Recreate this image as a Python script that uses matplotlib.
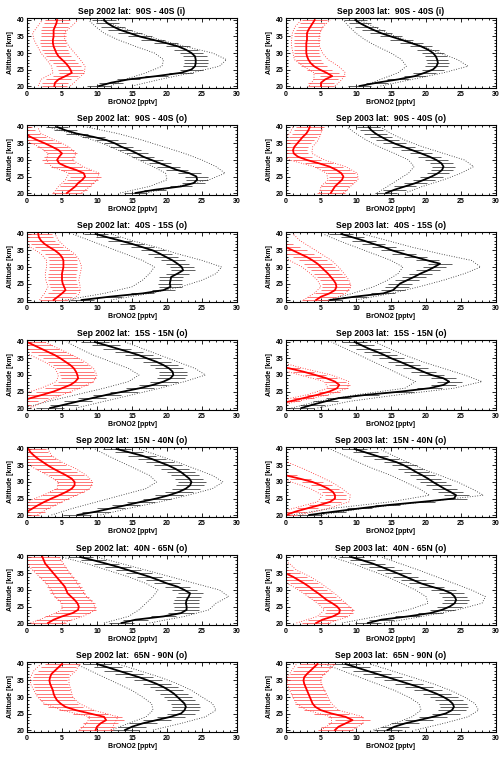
import matplotlib
matplotlib.use("Agg")
import matplotlib.pyplot as plt
from matplotlib.ticker import MultipleLocator
import numpy as np

plt.rcParams['font.family'] = ['Liberation Sans', 'DejaVu Sans']
plt.rcParams['font.weight'] = 'bold'

# altitude grid (km) for the profiles and the coarser grid of the dotted envelopes
alt = np.arange(20, 41)
alt_env = np.arange(20, 41, 2)

years = ['2002', '2003']
regions = ['90S - 40S (i)', '90S - 40S (o)', '40S - 15S (o)', '15S - 15N (o)',
           '15N - 40N (o)', '40N - 65N (o)', '65N - 90N (o)']

# panel order: row by row, left = 2002, right = 2003
blk_mean = [
    [10.3, 12, 14.5, 18.5, 22, 23.5, 24, 24.1, 24.1, 24, 23.5, 22.7, 21.6, 19.9, 18, 16.1, 14.7, 13.3, 12.3, 11.5, 11.0],
    [10.5, 13, 16, 18.4, 19.8, 21, 21.5, 21.7, 21.6, 21.4, 21, 20.3, 19.3, 17.9, 16.5, 15, 13.6, 12.5, 11.5, 10.6, 9.9],
    [15.5, 18.3, 22, 23.8, 24.3, 24.2, 23.2, 21.4, 20.2, 19, 17.8, 16.6, 15.7, 14.7, 13.5, 12.6, 11.4, 9.5, 7.1, 5.5, 4.3],
    [14.3, 15.5, 17, 18.5, 19.7, 20.8, 21.7, 22.3, 22.5, 22.2, 21.5, 20.5, 19.3, 18, 16.8, 15.5, 14.5, 13.6, 12.8, 12.2, 11.8],
    [7.8, 11.8, 16.5, 19.5, 20.5, 20.4, 20.5, 20.6, 21.5, 22.3, 22.1, 21.5, 20.8, 19.9, 19.0, 18.0, 16.5, 15, 13.3, 11.5, 9.8],
    [6.3, 9.8, 13.9, 15.3, 15.8, 16.3, 17.3, 18.3, 19.2, 20.3, 21.2, 22.0, 20.2, 18.5, 16.8, 15.2, 14.0, 12.5, 11.1, 9.5, 7.9],
    [3.3, 5.3, 7.3, 9.3, 11.4, 13.8, 16.1, 18.0, 19.5, 20.5, 20.9, 20.8, 20.3, 19.5, 18.5, 17.2, 16, 14.5, 12.9, 11.3, 9.7],
    [2.2, 3.8, 5.6, 7.5, 11.5, 16.5, 20.5, 22.5, 23.3, 22.5, 20.8, 19.6, 18.5, 17.4, 16.3, 15.1, 14.1, 13.0, 11.8, 10.8, 9.8],
    [7.2, 9.8, 12.0, 14.2, 16.3, 18.5, 20.3, 21.7, 22.7, 23.3, 23.5, 23.2, 22.6, 22.0, 21.2, 20.2, 19.0, 17.8, 16.4, 14.6, 12.8],
    [3.3, 6.8, 10.5, 14.5, 19.5, 24.0, 24.3, 23.5, 22.6, 21.8, 21.0, 20.3, 19.5, 18.6, 17.8, 16.9, 15.8, 14.3, 12.8, 11.3, 9.8],
    [13.5, 15.5, 19.5, 22.0, 22.8, 22.8, 22.7, 22.8, 23.1, 23.3, 22.5, 21.5, 20.0, 18.8, 17.5, 16.0, 14.5, 13.0, 11.3, 9.5, 7.6],
    [11.7, 13.6, 17.4, 20.6, 22.3, 23.4, 24.1, 24.3, 24.1, 23.6, 22.5, 20.8, 19.3, 18.2, 17.1, 16.0, 14.8, 13.6, 12.4, 10.9, 9.3],
    [14, 15, 16.5, 18.5, 20.5, 22, 22.5, 22.7, 22.5, 22, 21.5, 21, 20.3, 19.5, 18.5, 17.3, 16, 14.5, 13, 11.5, 10],
    [14.5, 15.5, 17, 19, 21, 22.8, 23.7, 24, 23.8, 23.3, 22.5, 21.5, 20.3, 19, 17.5, 16, 14.5, 13, 11.5, 10, 8.5],
]
blk_err = [1.7, 1.6, 1.6, 1.6, 1.7, 1.7, 2.0, 1.8, 2.0, 1.8, 1.8, 1.8, 2.0, 2.0]
blk_lo = [
    [12, 14, 17, 19.3, 19.5, 18.2, 15.5, 13, 11, 9.8, 8.8],
    [11, 13.5, 16, 17.2, 16.5, 15, 13, 11.3, 10, 9, 8.2],
    [13.3, 17.5, 20, 19.8, 18, 16, 14, 12, 9.5, 6.5, 3],
    [13, 14.5, 16, 17.5, 18.3, 17.5, 15.5, 13.3, 11.5, 10, 8.7],
    [5.5, 11, 15, 16.5, 17.5, 18.2, 16.5, 14, 11.5, 9, 6.5],
    [6, 9.5, 12.5, 14.5, 16, 16.7, 15, 12.5, 10, 7.5, 5.3],
    [-0.5, 3, 7, 11, 14.5, 16, 14.5, 12, 9.5, 7.5, 5.7],
    [0.8, 4.5, 10, 17, 18.5, 16.5, 14.5, 12.5, 10.5, 8.5, 6.5],
    [3.5, 6.5, 10, 13.5, 17, 18.5, 17.5, 15.5, 13.5, 11.5, 9.7],
    [0.8, 6.5, 15, 20.5, 19, 17, 15, 12.5, 10.3, 8.3, 6.3],
    [11, 14.5, 16, 17, 18, 18.7, 17, 14.5, 11.5, 8.5, 5],
    [8, 13, 17.5, 20.3, 20, 18.5, 16.5, 14.5, 12, 9.5, 6.5],
    [12, 14.5, 17, 18, 17.8, 16.5, 15, 13, 11, 9, 7],
    [12.5, 15.5, 18, 19.3, 19, 17.5, 15.5, 13, 10.5, 8, 5.5],
]
blk_hi = [
    [15, 19, 23.5, 27.5, 28.5, 26.5, 22.5, 19, 16, 13, 10.5],
    [13.5, 18, 22.5, 26, 24.5, 22, 19.5, 17, 14.5, 12.5, 10.5],
    [17, 21.5, 26, 28.3, 27, 25, 22.5, 19.5, 16.5, 13, 8.5],
    [17, 19.5, 22.5, 25, 26.8, 25.5, 22.5, 19.5, 17, 15, 13.5],
    [12, 17.5, 22, 25, 27, 27.8, 25, 21.5, 18.5, 15, 12],
    [10, 15, 19, 22.5, 25.5, 27.8, 26.5, 22, 18, 14.5, 11],
    [7, 11, 15, 19, 22.5, 25.5, 24, 21.5, 19, 16.5, 14],
    [4.5, 9, 16, 24, 28, 25.5, 22.5, 19.5, 17, 14.8, 12.7],
    [10.5, 14.5, 19, 23, 26.5, 28, 26.5, 24, 21.5, 18.8, 16],
    [5, 11, 20, 28.2, 26.5, 24.5, 22, 19.5, 17.3, 15.3, 13.4],
    [17.5, 22.5, 26, 27, 28.8, 27.5, 24, 20.5, 17, 13.5, 10],
    [14, 19.5, 24.5, 28, 28.5, 26.5, 24, 21.5, 19, 16.3, 13.6],
    [18, 22, 25.5, 27, 26.5, 25, 23.5, 21.5, 19, 16, 13],
    [18.5, 22.5, 26, 27.5, 27, 25.5, 23.5, 21, 18, 15, 12],
]

red_mean = [
    [3.9, 4.0, 4.5, 5.5, 6.4, 6.2, 5.9, 5.5, 5.0, 4.5, 4.2, 4.0, 3.8, 3.7, 3.7, 3.8, 3.8, 3.8, 4.0, 4.2, 4.3],
    [5.0, 5.0, 5.6, 6.6, 5.8, 4.8, 4.0, 3.5, 3.2, 3.0, 2.9, 2.9, 2.9, 2.9, 3.0, 3.0, 3.0, 3.2, 3.5, 3.8, 4.1],
    [5.7, 6.3, 6.9, 7.3, 7.9, 8.3, 8.1, 7.0, 5.6, 4.6, 4.3, 4.6, 5.0, 4.5, 3.6, 2.6, 1.5, 0.5, -0.3, -1.0, -1.5],
    [6.4, 6.7, 7.0, 7.5, 8.0, 8.2, 7.9, 7.2, 6.2, 4.7, 3.0, 1.7, 1.1, 1.0, 1.2, 1.6, 2.0, 2.4, 2.9, 3.2, 3.4],
    [3.8, 4.4, 5.0, 5.5, 5.3, 5.1, 5.0, 5.0, 5.0, 5.1, 5.2, 5.2, 5.2, 5.0, 4.6, 4.0, 3.2, 2.5, 2.0, 1.7, 1.6],
    [4.3, 5.0, 6.2, 7.0, 7.2, 7.1, 6.8, 6.4, 6.0, 5.5, 5.0, 4.5, 3.8, 3.0, 2.0, 1.0, 0.0, -1.0, -2.0, -2.5, -3.0],
    [-3, -2, -1, 0.5, 2.2, 3.8, 5.0, 6.2, 6.9, 7.3, 7.2, 7.0, 6.7, 6.2, 5.5, 4.8, 4.0, 3.0, 2.0, 1.0, 0.0],
    [-3.5, -1.5, 0.5, 2.5, 4.5, 6.2, 7.3, 7.6, 7.0, 5.8, 4.2, 2.5, 0.5, -1.5, -3.2, -5, -6.5, -8, -10, -12, -14],
    [-0.8, 0, 0.8, 1.6, 2.5, 3.5, 4.6, 5.6, 6.4, 6.8, 6.8, 6.4, 5.6, 4.7, 3.8, 3.0, 2.3, 1.6, 1.0, 0.5, 0.2],
    [0, 1.3, 3, 4.8, 6.3, 7.0, 7.0, 6.7, 6.0, 5.0, 3.8, 2.0, 0, -1.8, -3.5, -5, -6.5, -8, -10, -12, -14],
    [3.0, 3.8, 5.0, 6.5, 7.3, 7.4, 7.2, 6.8, 6.3, 5.8, 5.6, 5.4, 5.0, 4.6, 4.2, 3.8, 3.4, 3.0, 2.6, 2.4, 2.2],
    [4.3, 5.2, 6.7, 7.6, 7.7, 7.3, 6.6, 5.8, 5.2, 4.6, 3.9, 3.3, 2.6, 1.8, 1.0, 0.0, -1, -2, -3, -4, -5],
    [9.8, 10, 10.5, 11.3, 11, 9, 7, 5.5, 4.8, 4.3, 4.0, 3.8, 3.7, 3.5, 3.3, 3.2, 3.3, 3.5, 4.0, 4.5, 5.0],
    [7, 7.5, 8.5, 9.5, 8.5, 6.5, 5, 4.2, 3.8, 3.6, 3.4, 3.2, 3.0, 2.8, 2.6, 2.5, 2.6, 3.0, 3.5, 4.0, 4.5],
]
red_err = [1.8, 1.8, 2.2, 2.0, 2.0, 2.0, 2.5, 1.5, 2.5, 1.5, 2.5, 2.0, 2.5, 2.5]
red_lo = [
    [1.6, 2, 3.7, 3.5, 2.8, 2, 1.5, 1, 0.8, 1.5, 2.2],
    [3.3, 4, 4, 2.5, 1.2, 1, 0.8, 0.8, 0.9, 1.3, 2.2],
    [3.8, 4.5, 5.5, 6, 3.5, 2.8, 3, 1.8, -0.5, -2, -3],
    [4.8, 5, 6, 5.8, 4, 0.5, -1, -1, -0.5, 0.5, 1],
    [1.8, 2.5, 3, 2.7, 2.6, 2.8, 2.8, 2, 0.5, -0.5, -1.5],
    [2.5, 4, 5, 4.5, 3.5, 2.3, 0.5, -1, -3, -4.5, -6],
    [-5, -3, -1, 2, 4.2, 4.5, 4, 2.5, 0.5, -1.5, -3],
    [-6, -1.5, 3, 6, 5.5, 2, -1.5, -5, -9, -13, -16],
    [-3, -1.5, 0, 2.3, 4.3, 4.5, 3, 1.2, -0.5, -1.5, -2],
    [-2, 1, 4.5, 5.2, 3.5, 0.8, -2.5, -6, -10, -14, -18],
    [0.5, 3, 5, 5, 4, 3.5, 2.8, 1.8, 0.8, 0, -0.5],
    [1.5, 4.5, 5.5, 4.5, 3.2, 1.8, 0.2, -1.5, -3.5, -6, -8],
    [7.5, 8.5, 9, 5, 2.5, 1.5, 1, 0.5, 0.5, 1, 2],
    [5, 6.5, 6.5, 3, 1.5, 1, 0.5, 0.2, 0.2, 0.8, 1.5],
]
red_hi = [
    [6.2, 7.2, 8.2, 8.3, 7.6, 6.8, 6, 5.4, 5.3, 6.3, 7.3],
    [7, 8, 8.5, 7.5, 6, 5.2, 4.8, 4.7, 4.8, 5.3, 6.3],
    [7.8, 9, 10, 10.3, 8, 6.5, 7, 6, 4, 2, 1.5],
    [8.2, 9.2, 10.3, 10.2, 8.5, 5.5, 3.7, 3.8, 4.6, 5, 5.2],
    [6.5, 7.5, 7.6, 7.4, 7.6, 7.8, 7.5, 6.8, 5.5, 4.5, 4],
    [6.5, 8.5, 9.3, 9, 8.3, 7.5, 6.5, 5, 3.5, 2, 1],
    [0.5, 2.5, 5, 7.5, 9.5, 10, 9.5, 8.3, 6.5, 4.5, 2.5],
    [-2, 1.5, 6, 8.8, 9, 6.5, 2.5, -1, -4, -8, -12],
    [1.5, 3, 5, 7, 9, 9.4, 8.5, 7, 5, 3.5, 3],
    [2, 6, 9, 9.2, 8, 6.5, 4.5, 2.5, 0.2, -2, -4],
    [5, 8, 9.8, 9.5, 8.5, 7.8, 7.2, 6.5, 5.8, 5.2, 4.5],
    [6, 9, 9.6, 8.5, 7.5, 6.3, 5, 3.5, 1.5, 0.5, -1.5],
    [12, 12.5, 13, 9.5, 7.5, 6.5, 6.3, 6, 6, 7, 7.5],
    [9.5, 11, 11, 7.5, 6.5, 6, 5.5, 5, 5, 6, 7],
]

W, H = 504, 757
fig = plt.figure(figsize=(W / 100, H / 100), dpi=100)

col_x = [27, 286]
ax_w, ax_h = 210, 70
row_top = [18, 125, 232, 340, 447, 555, 662]

for i in range(14):
    r, c = i // 2, i % 2
    ax = fig.add_axes([col_x[c] / W, 1 - (row_top[r] + ax_h) / H, ax_w / W, ax_h / H])

    bm = np.array(blk_mean[i])
    rm = np.array(red_mean[i])

    # dotted envelopes
    ax.plot(blk_lo[i], alt_env, color='#222222', ls=(0, (1, 2)), lw=0.6)
    ax.plot(blk_hi[i], alt_env, color='#222222', ls=(0, (1, 2)), lw=0.6)
    ax.plot(red_lo[i], alt_env, color='#ff2020', ls=(0, (1, 2)), lw=0.6)
    ax.plot(red_hi[i], alt_env, color='#ff2020', ls=(0, (1, 2)), lw=0.6)

    # error bars
    ax.hlines(alt, bm - blk_err[i], bm + blk_err[i], color='#202020', lw=0.5)
    ax.hlines(alt, rm - red_err[i], rm + red_err[i], color='#ff4040', lw=0.5)

    # mean profiles
    ax.plot(bm, alt, color='black', lw=1.3)
    ax.plot(rm, alt, color='red', lw=1.3)

    ax.set_xlim(0, 30)
    ax.set_ylim(19.4, 40.6)
    ax.xaxis.set_major_locator(MultipleLocator(5))
    ax.xaxis.set_minor_locator(MultipleLocator(1))
    ax.yaxis.set_major_locator(MultipleLocator(5))
    ax.yaxis.set_minor_locator(MultipleLocator(1))
    ax.tick_params(which='both', direction='in', top=True, right=True,
                   labelsize=5, pad=2, width=0.6)
    ax.tick_params(which='major', length=3)
    ax.tick_params(which='minor', length=1.5)
    for s in ax.spines.values():
        s.set_linewidth(0.8)
    ax.set_xlabel('BrONO2 [pptv]', fontsize=5, fontweight='bold', labelpad=1)
    ax.set_ylabel('Altitude [km]', fontsize=5, fontweight='bold', labelpad=2)
    ax.set_title('Sep %s lat:  %s' % (years[c], regions[r]), fontsize=6.2,
                 fontweight='bold', pad=3)

fig.savefig('out.png', dpi=100)
